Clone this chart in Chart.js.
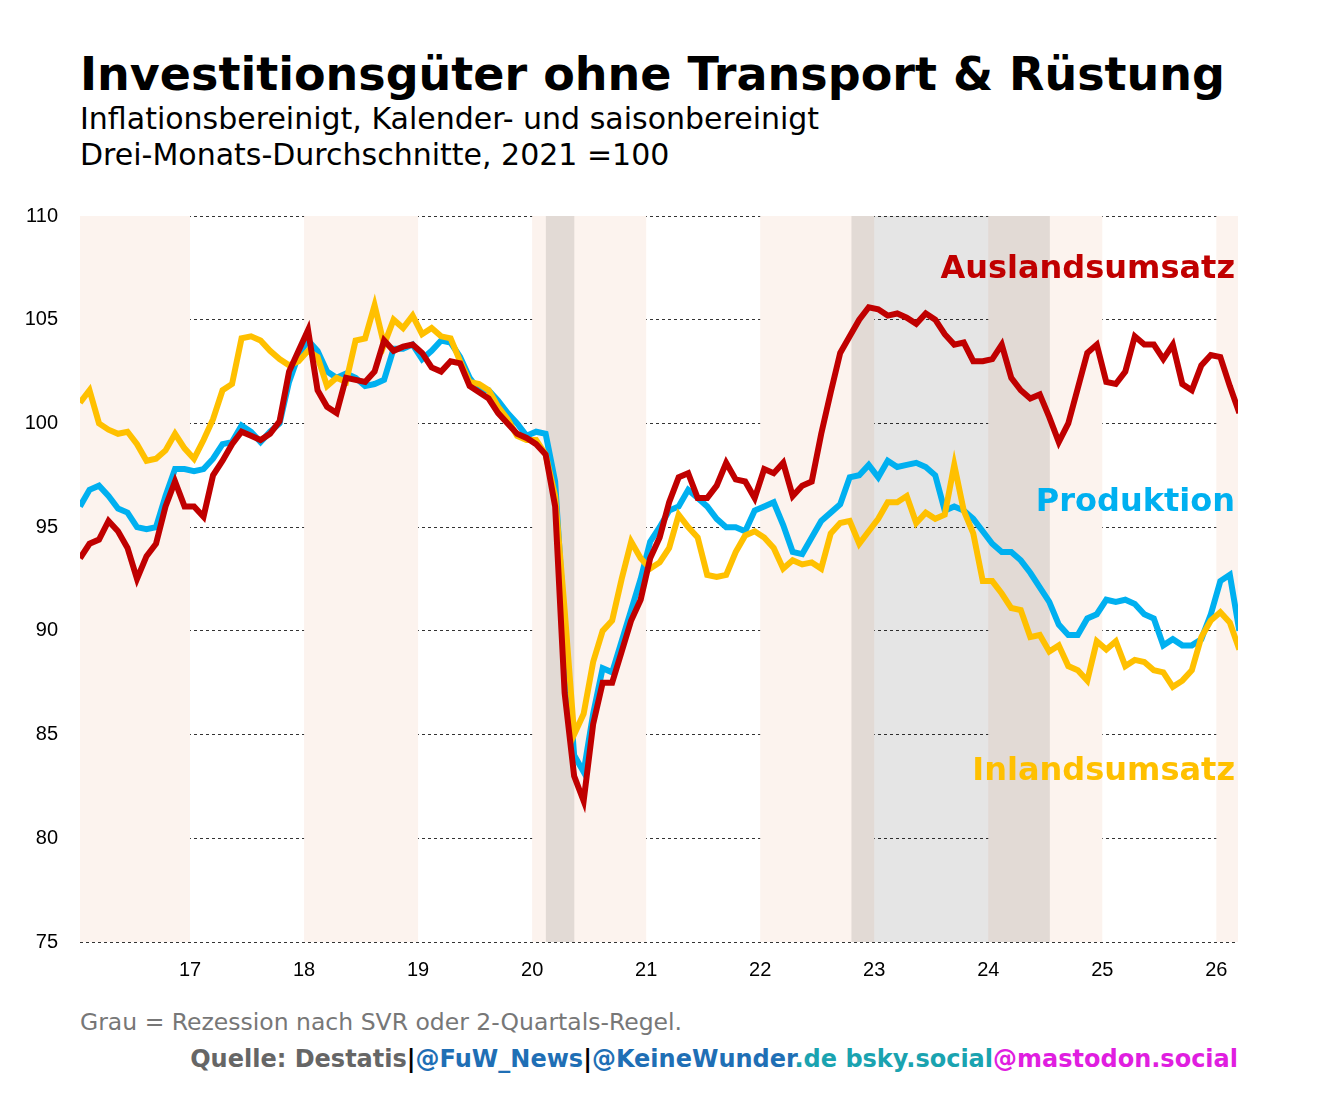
<!DOCTYPE html>
<html><head><meta charset="utf-8">
<script src="https://cdn.jsdelivr.net/npm/chart.js@4"></script>
<style>
body{margin:0;background:#fff;width:1320px;height:1100px;position:relative;overflow:hidden;font-family:"DejaVu Sans",sans-serif}
#c{position:absolute;left:0;top:0}
.t{position:absolute;white-space:nowrap}
</style></head><body>
<div class="t" style="left:80px;top:47px;font-size:46px;font-weight:bold">Investitionsgüter ohne Transport &amp; Rüstung</div>
<div class="t" style="left:80px;top:101px;font-size:30px">Inflationsbereinigt, Kalender- und saisonbereinigt</div>
<div class="t" style="left:80px;top:137px;font-size:30px">Drei-Monats-Durchschnitte, 2021 =100</div>
<div class="t" style="left:80px;top:1008px;font-size:23.5px;color:#777">Grau = Rezession nach SVR oder 2-Quartals-Regel.</div>
<div class="t" style="right:82px;top:1045px;font-size:24px;font-weight:bold"><span style="color:#666">Quelle: Destatis</span><span>|</span><span style="color:#1f6fb5">@FuW_News</span><span>|</span><span style="color:#1f6fb5">@KeineWunder</span><span style="color:#1aa3b0">.de bsky.social</span><span style="color:#e01ee0">@mastodon.social</span></div>
<canvas id="c" width="1320" height="1100"></canvas>
<script>
const startYear = 2016.035;
const ausland = [
93.5,94.2,94.4,95.3,94.8,94.0,92.5,93.6,94.2,96.0,97.2,96.0,
96.0,95.5,97.5,98.2,99.0,99.6,99.4,99.2,99.5,100.1,102.5,
103.5,104.5,101.6,100.8,100.5,102.2,102.1,102.0,102.5,104.0,103.5,103.7,
103.8,103.4,102.7,102.5,103.0,102.9,101.8,101.5,101.2,100.5,100.0,99.5,
99.3,99.0,98.5,96.0,87.0,83.0,81.8,85.5,87.5,87.5,89.0,90.5,
91.5,93.5,94.5,96.2,97.4,97.6,96.4,96.4,97.0,98.1,97.3,97.2,
96.4,97.8,97.6,98.1,96.5,97.0,97.2,99.5,101.5,103.4,104.2,105.0,
105.6,105.5,105.2,105.3,105.1,104.8,105.3,105.0,104.3,103.8,103.9,103.0,
103.0,103.1,103.8,102.2,101.6,101.2,101.4,100.3,99.1,100.0,101.7,103.4,
103.8,102.0,101.9,102.5,104.2,103.8,103.8,103.1,103.8,101.9,101.6,102.8,
103.3,103.2,101.8,100.5];
const produktion = [
96.0,96.8,97.0,96.5,95.9,95.7,95.0,94.9,95.0,96.5,97.8,97.8,
97.7,97.8,98.3,99.0,99.1,99.9,99.6,99.1,99.6,100.0,102.0,103.3,
104.0,103.5,102.5,102.2,102.4,102.2,101.8,101.9,102.1,103.6,103.6,103.8,
103.1,103.5,104.0,103.9,103.2,102.2,101.6,101.6,101.1,100.5,100.0,99.4,
99.6,99.5,97.2,90.0,84.0,83.2,86.0,88.2,88.0,89.5,91.0,92.5,
94.3,95.0,95.8,96.0,96.8,96.4,96.0,95.4,95.0,95.0,94.8,95.8,
96.0,96.2,95.1,93.8,93.7,94.5,95.3,95.7,96.1,97.4,97.5,98.0,
97.4,98.2,97.9,98.0,98.1,97.9,97.5,95.8,96.0,95.8,95.4,94.8,
94.2,93.8,93.8,93.4,92.8,92.1,91.4,90.3,89.8,89.8,90.6,90.8,
91.5,91.4,91.5,91.3,90.8,90.6,89.3,89.6,89.3,89.3,89.6,90.8,
92.4,92.7,90.0];
const inland = [
101.0,101.6,100.0,99.7,99.5,99.6,99.0,98.2,98.3,98.7,99.5,98.8,
98.3,99.2,100.2,101.6,101.9,104.1,104.2,104.0,103.5,103.1,102.8,103.0,
103.5,103.2,101.8,102.2,102.0,104.0,104.1,105.7,103.8,105.0,104.6,105.2,
104.3,104.6,104.2,104.1,103.0,102.0,101.9,101.6,100.8,100.2,99.4,99.2,
99.2,98.5,96.5,91.0,85.0,86.0,88.5,90.0,90.5,92.5,94.3,93.5,
93.0,93.3,94.0,95.6,95.0,94.5,92.7,92.6,92.7,93.8,94.6,94.8,
94.5,94.0,93.0,93.4,93.2,93.3,93.0,94.7,95.2,95.3,94.2,94.8,
95.4,96.2,96.2,96.5,95.2,95.7,95.4,95.6,98.0,95.8,94.7,92.4,92.4,
91.8,91.1,91.0,89.7,89.8,89.0,89.3,88.3,88.1,87.6,89.5,89.1,
89.5,88.3,88.6,88.5,88.1,88.0,87.3,87.6,88.1,89.7,90.5,
90.9,90.4,89.1];
const yearTicks = [2017,2018,2019,2020,2021,2022,2023,2024,2025,2026];
const peachYears = [2016,2018,2020,2022,2024,2026];
const recessions = [[2020.12,2020.37],[2022.8,2024.54]];
const seriesLabels = [["Auslandsumsatz","#c00000",107.4],["Produktion","#00b0f0",96.2],["Inlandsumsatz","#ffc000",83.2]];
const xMin = 2016.035, xMax = 2026.19;

const pts = a => a.map((v,i)=>({x:startYear+i/12, y:v}));
const bands = {
  id:'bands',
  beforeDatasetsDraw(ch){
    const {ctx,chartArea:a,scales:{x,y}}=ch;
    ctx.save();
    ctx.fillStyle='#fcf3ee';
    peachYears.forEach(yr=>{
      const l=Math.max(x.getPixelForValue(yr),a.left), r=Math.min(x.getPixelForValue(yr+1),a.right);
      if(r>l) ctx.fillRect(l,a.top,r-l,a.bottom-a.top);
    });
    ctx.fillStyle='rgba(0,0,0,0.1)';
    recessions.forEach(([s,e])=>{
      const l=x.getPixelForValue(s), r=x.getPixelForValue(e);
      ctx.fillRect(l,a.top,r-l,a.bottom-a.top);
    });
    ctx.restore();
  },
  afterDatasetsDraw(ch){
    const {ctx,chartArea:a,scales:{y}}=ch;
    ctx.save();
    ctx.font='bold 32px "DejaVu Sans"';
    ctx.textAlign='right';ctx.textBaseline='middle';
    seriesLabels.forEach(([t,c,v])=>{ctx.fillStyle=c;ctx.fillText(t,a.right-3,y.getPixelForValue(v));});
    ctx.restore();
  }
};
const ds=(d,c)=>({data:pts(d),borderColor:c,borderWidth:6,pointRadius:0,tension:0,fill:false});
new Chart(document.getElementById('c'),{
  type:'line',
  data:{datasets:[ds(ausland,'#c00000'),ds(inland,'#ffc000'),ds(produktion,'#00b0f0')]},
  options:{
    responsive:false,animation:false,
    layout:{padding:{left:0,top:216,right:82,bottom:118}},
    plugins:{legend:{display:false},tooltip:{enabled:false}},
    scales:{
      x:{type:'linear',min:xMin,max:xMax,
        afterBuildTicks:s=>{s.ticks=yearTicks.map(v=>({value:v}));},
        afterFit:s=>{s.height=40;},
        grid:{display:false},border:{display:false},
        ticks:{color:'#000',font:{family:'Liberation Sans',size:20},callback:v=>String(v-2000),maxRotation:0,autoSkip:false,padding:8}},
      y:{min:75,max:110,
        afterFit:s=>{s.width=80;},
        afterBuildTicks:s=>{s.ticks=[75,80,85,90,95,100,105,110].map(v=>({value:v}));},
        grid:{color:'#333',lineWidth:1,drawTicks:false},border:{display:false,dash:[3,3]},
        ticks:{color:'#000',font:{family:'Liberation Sans',size:20},padding:22}}
    }
  },
  plugins:[bands]
});
</script>
</body></html>
